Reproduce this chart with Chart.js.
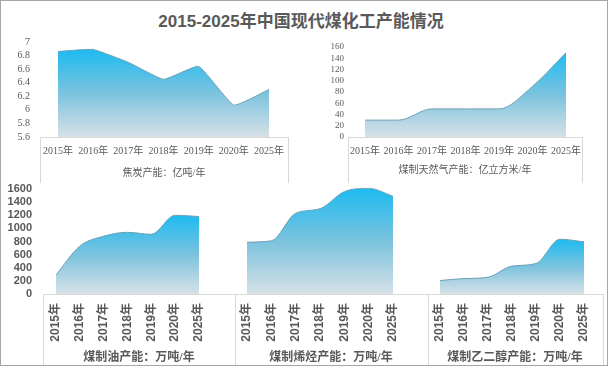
<!DOCTYPE html>
<html>
<head>
<meta charset="utf-8">
<script src="https://cdn.jsdelivr.net/npm/chart.js@4"></script>
<style>
    html, body { margin: 0; padding: 0; background: #fff; }
    #wrap {
        position: relative;
        width: 606px;
        height: 364px;
        border: 1px solid #a6a6a6;
        overflow: hidden;
        font-family: 'Liberation Serif', 'Noto Sans CJK SC', serif;
        color: #595959;
    }
    #title {
        position: absolute;
        left: 0; top: 10px; width: 600px;
        text-align: center;
        font: bold 17px 'Liberation Sans', 'Noto Sans CJK SC', sans-serif;
        line-height: 22px;
    }
    .frame {
        position: absolute;
        border: 1px solid #d9d9d9;
        border-bottom: none;
        box-sizing: border-box;
    }
    .axis-title {
        position: absolute;
        text-align: center;
        white-space: nowrap;
        transform: translate(-50%, -50%);
    }
    .small { font-size: 10px; }
    .big { font-size: 12px; font-weight: bold; }
    canvas { position: absolute; }
</style>
</head>
<body>
<div id="wrap">
    <div id="title">2015-2025年中国现代煤化工产能情况</div>

    <div class="frame" style="left:39px; top:136px; width:249px; height:46px;"></div>
    <div class="frame" style="left:347px; top:136px; width:235px; height:46px;"></div>
    <div class="frame" style="left:42px; top:293px; width:193px; height:72px;"></div>
    <div class="frame" style="left:234px; top:293px; width:194px; height:72px;"></div>
    <div class="frame" style="left:427px; top:293px; width:176px; height:72px;"></div>

    <canvas id="cokeChart" style="left:0; top:30px;"></canvas>
    <canvas id="sngChart" style="left:304px; top:30px;"></canvas>
    <canvas id="oilChart" style="left:0; top:180px;"></canvas>
    <canvas id="olefinChart" style="left:234px; top:180px;"></canvas>
    <canvas id="glycolChart" style="left:427px; top:180px;"></canvas>

    <div class="axis-title small" style="left:163px; top:170px;">焦炭产能：亿吨/年</div>
    <div class="axis-title small" style="left:464px; top:167px;">煤制天然气产能：亿立方米/年</div>
    <div class="axis-title big" style="left:138px; top:355px;">煤制油产能：万吨/年</div>
    <div class="axis-title big" style="left:330px; top:355px;">煤制烯烃产能：万吨/年</div>
    <div class="axis-title big" style="left:514px; top:355px;">煤制乙二醇产能：万吨/年</div>
</div>

<script>
// categories
const years = ['2015年', '2016年', '2017年', '2018年', '2019年', '2020年', '2025年'];

// series values
const coke = [6.86, 6.89, 6.70, 6.45, 6.64, 6.07, 6.30];        // 亿吨/年
const sng = [30, 30, 50, 50, 50, 90, 150];                         // 亿立方米/年
const coalOil = [290, 730, 880, 940, 910, 1200, 1180];            // 万吨/年
const olefin = [790, 810, 1230, 1300, 1560, 1610, 1490];          // 万吨/年
const glycol = [205, 235, 255, 425, 465, 835, 795];               // 万吨/年

// axis ranges
const cokeAxis = { min: 5.6, max: 7, step: 0.2 };
const sngAxis = { min: 0, max: 160, step: 20 };
const bottomAxis = { min: 0, max: 1600, step: 200 };

const textColor = '#595959';
const serif = "'Liberation Serif', 'Noto Sans CJK SC', serif";
const sans = "'Liberation Sans', 'Noto Sans CJK SC', sans-serif";

// Excel style gradient: bright cyan at the top of the shape, pale at the base
function areaFill(context) {
    const chart = context.chart;
    const area = chart.chartArea;
    if (!area) return 'rgba(31,187,241,0.8)';
    const top = chart.scales.y.getPixelForValue(Math.max(...context.dataset.data));
    const g = chart.ctx.createLinearGradient(0, top, 0, area.bottom);
    g.addColorStop(0, '#1dbbf1');
    g.addColorStop(0.5, '#7bc3de');
    g.addColorStop(1, '#d7e1e7');
    return g;
}

function makeArea(id, size, data, cfg) {
    const canvas = document.getElementById(id);
    canvas.width = size.w;
    canvas.height = size.h;
    canvas.style.width = size.w + 'px';
    canvas.style.height = size.h + 'px';

    return new Chart(canvas, {
        type: 'line',
        data: {
            labels: years,
            datasets: [{
                data: data,
                fill: 'start',
                clip: 5,
                backgroundColor: areaFill,
                borderColor: '#6f9fb4',
                borderWidth: 1,
                pointRadius: 0,
                tension: cfg.tension || 0,
                cubicInterpolationMode: cfg.tension ? 'default' : 'monotone'
            }]
        },
        options: {
            responsive: false,
            animation: false,
            events: [],
            layout: { padding: cfg.padding },
            plugins: { legend: { display: false }, tooltip: { enabled: false } },
            scales: {
                x: {
                    offset: false,
                    grid: { display: false, drawTicks: false },
                    border: { display: false },
                    ticks: {
                        autoSkip: false,
                        color: textColor,
                        font: cfg.xFont,
                        padding: cfg.xPad,
                        minRotation: cfg.rotate,
                        maxRotation: cfg.rotate
                    },
                    afterFit: s => {
                        s.height = cfg.xHeight;
                        s.paddingLeft = 0;
                        s.paddingRight = 0;
                    }
                },
                y: {
                    display: cfg.showY,
                    min: cfg.axis.min,
                    max: cfg.axis.max,
                    grid: { display: false, drawTicks: false },
                    border: { display: false },
                    ticks: {
                        autoSkip: false,
                        stepSize: cfg.axis.step,
                        color: textColor,
                        font: cfg.yFont,
                        padding: cfg.yPad,
                        callback: v => String(Math.round(v * 10) / 10)
                    },
                    afterFit: s => {
                        s.width = cfg.yWidth;
                        s.paddingTop = 0;
                        s.paddingBottom = 0;
                    }
                }
            }
        }
    });
}

makeArea('cokeChart', { w: 300, h: 150 }, coke, {
    axis: cokeAxis, showY: true, yWidth: 57, yPad: 28, tension: 0.12,
    padding: { top: 11, right: 32, left: 0, bottom: 0 },
    xHeight: 44, xPad: 8, rotate: 0,
    xFont: { family: serif, size: 10 }, yFont: { family: serif, size: 10 }
});

makeArea('sngChart', { w: 302, h: 150 }, sng, {
    axis: sngAxis, showY: true, yWidth: 60, yPad: 21,
    padding: { top: 16, right: 41, left: 0, bottom: 0 },
    xHeight: 44, xPad: 8, rotate: 0,
    xFont: { family: serif, size: 10 }, yFont: { family: serif, size: 9 }
});

makeArea('oilChart', { w: 234, h: 184 }, coalOil, {
    axis: bottomAxis, showY: true, yWidth: 55, yPad: 24,
    padding: { top: 8, right: 36, left: 0, bottom: 0 },
    xHeight: 71, xPad: 9, rotate: 90,
    xFont: { family: sans, size: 12, weight: 'bold' },
    yFont: { family: sans, size: 11, weight: 'bold' }
});

makeArea('olefinChart', { w: 193, h: 184 }, olefin, {
    axis: bottomAxis, showY: false, yWidth: 0, yPad: 0,
    padding: { top: 8, right: 35, left: 12, bottom: 0 },
    xHeight: 71, xPad: 9, rotate: 90,
    xFont: { family: sans, size: 12, weight: 'bold' },
    yFont: { family: sans, size: 11, weight: 'bold' }
});

makeArea('glycolChart', { w: 179, h: 184 }, glycol, {
    axis: bottomAxis, showY: false, yWidth: 0, yPad: 0,
    padding: { top: 8, right: 23, left: 12, bottom: 0 },
    xHeight: 71, xPad: 9, rotate: 90,
    xFont: { family: sans, size: 12, weight: 'bold' },
    yFont: { family: sans, size: 11, weight: 'bold' }
});
</script>
</body>
</html>
